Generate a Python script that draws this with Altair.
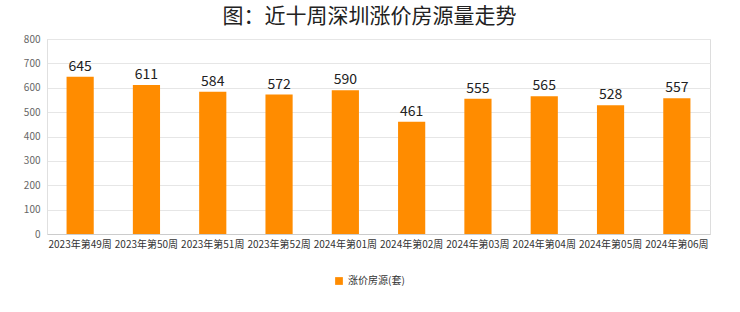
import altair as alt
import pandas as pd

weeks = ["2023年第49周", "2023年第50周", "2023年第51周", "2023年第52周", "2024年第01周",
         "2024年第02周", "2024年第03周", "2024年第04周", "2024年第05周", "2024年第06周"]
values = [645, 611, 584, 572, 590, 461, 555, 565, 528, 557]
series_name = "涨价房源(套)"

df = pd.DataFrame({"week": weeks, "value": values, "series": [series_name] * len(weeks)})

FONT = "Noto Sans CJK SC"

base = alt.Chart(df).encode(
    x=alt.X("week:N", sort=weeks, title=None,
            scale=alt.Scale(paddingInner=0.59, paddingOuter=0.295),
            axis=alt.Axis(labelAngle=0, labelFontSize=10, labelColor="#333333",
                          labelFont=FONT, ticks=False, domainColor="#cccccc",
                          labelPadding=5, grid=False)),
    y=alt.Y("value:Q", title=None,
            scale=alt.Scale(domain=[0, 800], nice=False),
            axis=alt.Axis(values=list(range(0, 801, 100)), labelFontSize=10,
                          labelColor="#666666", labelFont=FONT, ticks=False,
                          domainColor="#e0e0e0", gridColor="#e6e6e6",
                          labelPadding=7)),
)

bars = base.mark_bar(color="#FF8C00").encode(
    color=alt.Color("series:N", scale=alt.Scale(range=["#FF8C00"]),
                    legend=alt.Legend(title=None, orient="none", legendX=287, legendY=237,
                                      symbolType="square", symbolSize=60,
                                      labelFontSize=10, labelFont=FONT,
                                      labelColor="#333333"))
)

labels = base.mark_text(baseline="bottom", dy=-3, fontSize=14, font=FONT,
                        color="#222222").encode(text="value:Q")

chart = (bars + labels).properties(
    width=663, height=195,
    title=alt.Title("图：近十周深圳涨价房源量走势", fontSize=21, font=FONT,
                    fontWeight="normal", color="#222222", anchor="middle",
                    dx=-9, offset=7),
    autosize=alt.AutoSizeParams(type="none"),
    padding={"left": 47, "top": 39, "right": 30, "bottom": 78},
).configure_view(stroke="#e6e6e6").configure(background="white")

chart.save("out.html", embed_options={"renderer": "svg", "actions": False})
